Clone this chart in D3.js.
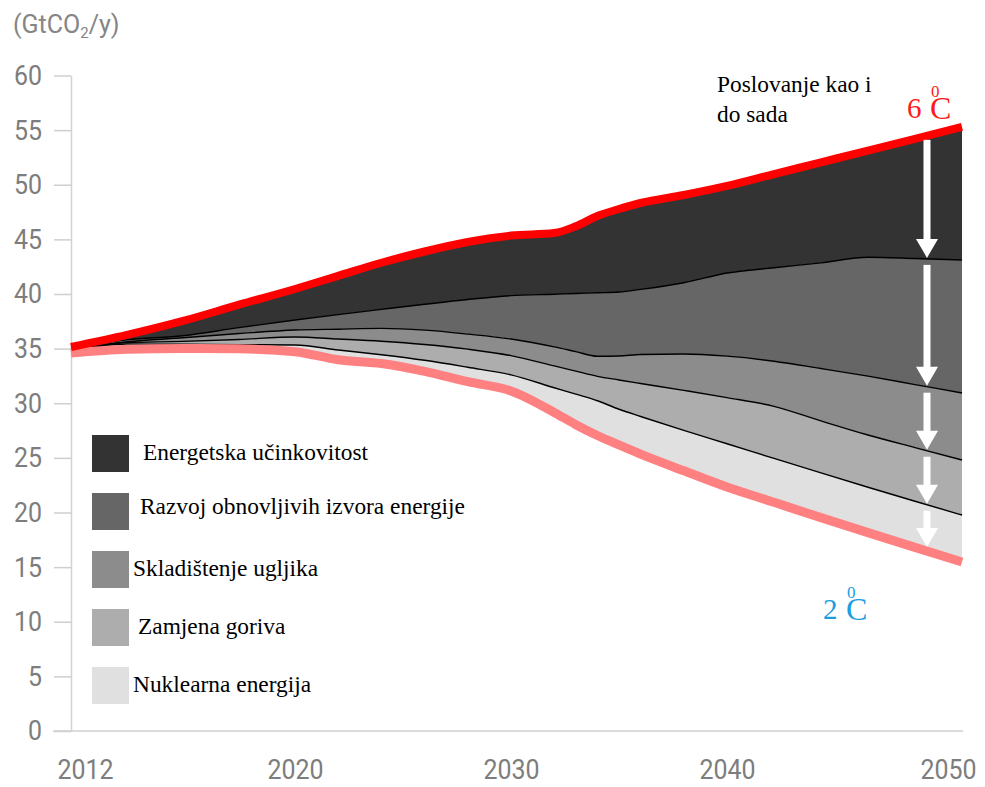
<!DOCTYPE html>
<html>
<head>
<meta charset="utf-8">
<script src="https://cdn.jsdelivr.net/npm/d3@7"></script>
<style>
  body { margin: 0; background: #fff; }
</style>
</head>
<body>
<div id="chart"></div>
<script>
// emissions (GtCO2/y)
const years = [2012, 2014, 2016, 2018, 2020, 2022, 2024, 2026, 2028, 2030, 2032, 2033,
               2034, 2035, 2036, 2038, 2040, 2042, 2044, 2046, 2048, 2050];
// 2DS pathway (bottom line)
const base2DS = [34.6, 34.95, 35.02, 34.98, 34.72, 33.98, 33.64, 32.92, 31.97, 31.12, 29.16, 28.04,
                 27.05, 26.18, 25.34, 23.82, 22.33, 20.93, 19.53, 18.16, 16.81, 15.47];
// reduction wedges, bottom to top
const nuclear    = [0.1, 0.47, 0.38, 0.39, 0.61, 0.9, 0.8, 1.01, 1.32, 1.48, 2.26, 2.79,
                    3.18, 3.27, 3.45, 3.69, 3.96, 4.02, 4.09, 4.15, 4.22, 4.3];
const fuelSwitch = [0.1, 0.14, 0.26, 0.47, 0.73, 1.0, 1.24, 1.45, 1.66, 1.76, 2.0, 2.11,
                    2.23, 2.68, 3.02, 3.67, 4.23, 4.77, 4.76, 4.78, 4.91, 5.04];
const ccs        = [0.1, 0.05, 0.34, 0.54, 0.64, 0.9, 1.17, 1.31, 1.38, 1.52, 1.74, 1.79,
                    1.84, 2.2, 2.65, 3.33, 3.79, 4.13, 4.8, 5.39, 5.77, 6.13];
const renewables = [0.1, 0.19, 0.18, 0.54, 0.92, 1.33, 1.74, 2.37, 3.17, 3.97, 4.82, 5.32,
                    5.81, 5.85, 5.96, 6.52, 7.61, 8.55, 9.67, 10.89, 11.54, 12.17];
const efficiency = [0.15, 0.45, 1.35, 2.1, 2.84, 3.55, 4.27, 4.83, 5.26, 5.5, 5.6, 6.15,
                    7.03, 7.6, 7.91, 8.03, 7.97, 8.57, 9.2, 9.76, 10.95, 12.18];

const legendLabels = ["Energetska učinkovitost", "Razvoj obnovljivih izvora energije",
                      "Skladištenje ugljika", "Zamjena goriva", "Nuklearna energija"];
const yTicks = d3.range(0, 61, 5);
const xTicks = [2012, 2020, 2030, 2040, 2050];

const width = 985, height = 787;
const tickFont = 'Roboto, "Liberation Sans", sans-serif';
const serif = '"Liberation Serif", "Times New Roman", serif';

const svg = d3.select("#chart").append("svg")
  .attr("width", width)
  .attr("height", height);

// x positions of the year labels are not evenly spaced in the original
const x = d3.scaleLinear().domain([2012, 2020, 2030, 2040, 2050]).range([71, 295, 511, 727, 962]);
const y = d3.scaleLinear().domain([0, 60]).range([731, 75.5]);

// stack the wedges on top of the 2DS line
const keys = ["base", "nuc", "fuel", "ccs", "ren", "eff"];
const table = years.map((yr, i) => ({
  year: yr, base: base2DS[i], nuc: nuclear[i], fuel: fuelSwitch[i],
  ccs: ccs[i], ren: renewables[i], eff: efficiency[i]
}));
const series = d3.stack().keys(keys)(table);
const colors = {nuc: "#e0e0e0", fuel: "#adadad", ccs: "#8c8c8c", ren: "#666666", eff: "#333333"};

const area = d3.area()
  .x(d => x(d.data.year))
  .y0(d => y(d[0]))
  .y1(d => y(d[1]))
  .curve(d3.curveMonotoneX);

const topLine = d3.line()
  .x(d => x(d.data.year))
  .y(d => y(d[1]))
  .curve(d3.curveMonotoneX);

// y axis
const yAxis = svg.append("g")
  .attr("transform", "translate(71,0)")
  .call(d3.axisLeft(y).tickValues(yTicks).tickSize(17).tickSizeOuter(0).tickPadding(12));
yAxis.select(".domain").attr("stroke", "#d2d2d2").attr("stroke-width", 1.5);
yAxis.selectAll(".tick line").attr("stroke", "#cfcfcf").attr("stroke-width", 1.5);
yAxis.selectAll(".tick text")
  .attr("fill", "#7d7d7d")
  .style("font-family", tickFont)
  .style("font-size", "28px")
  .attr("textLength", d => String(d).length * 14)
  .attr("lengthAdjust", "spacingAndGlyphs");

// baseline
svg.append("line")
  .attr("x1", 53).attr("x2", x(2050) + 1)
  .attr("y1", y(0)).attr("y2", y(0))
  .attr("stroke", "#cfcfcf").attr("stroke-width", 1.5);

// x axis
const xAxis = svg.append("g")
  .attr("transform", `translate(0,${y(0)})`)
  .call(d3.axisBottom(x).tickValues(xTicks).tickFormat(d3.format("d")).tickSize(0));
xAxis.select(".domain").remove();
xAxis.selectAll(".tick text")
  .attr("y", 48).attr("dy", 0)
  .attr("fill", "#7d7d7d")
  .style("font-family", tickFont)
  .style("font-size", "28px")
  .attr("textLength", 56)
  .attr("lengthAdjust", "spacingAndGlyphs")
  .attr("text-anchor", (d, i) => i === 0 ? "start" : (i === xTicks.length - 1 ? "end" : "middle"))
  .attr("x", (d, i) => i === 0 ? -14 : (i === xTicks.length - 1 ? 14 : 0));

// unit label
const unit = svg.append("text")
  .attr("x", 13).attr("y", 33)
  .attr("fill", "#858585")
  .style("font-family", tickFont)
  .style("font-size", "25px");
unit.append("tspan").text("(GtCO");
unit.append("tspan").text("2").attr("dy", 5).style("font-size", "15px");
unit.append("tspan").text("/y)").attr("dy", -5);

// wedges
const wedges = series.filter(s => s.key !== "base");
svg.append("g").selectAll("path")
  .data(wedges)
  .join("path")
  .attr("d", area)
  .attr("fill", d => colors[d.key]);

// black borders between wedges
svg.append("g").selectAll("path")
  .data(wedges.filter(s => s.key !== "eff"))
  .join("path")
  .attr("d", topLine)
  .attr("fill", "none")
  .attr("stroke", "#000")
  .attr("stroke-width", 1.4);

// 2DS line (pink) and 6DS line (red)
svg.append("path")
  .datum(series[0])
  .attr("d", topLine)
  .attr("fill", "none")
  .attr("stroke", "#ff8080")
  .attr("stroke-width", 9);

svg.append("path")
  .datum(series[series.length - 1])
  .attr("d", topLine)
  .attr("fill", "none")
  .attr("stroke", "#ff0000")
  .attr("stroke-width", 8);

// white arrows near 2050
const arrowX = 927;
const arrowYear = x.invert(arrowX);
const j = d3.bisectLeft(years, arrowYear);
const t = (arrowYear - years[j - 1]) / (years[j] - years[j - 1]);
const edgeAt = s => (1 - t) * s[j - 1][1] + t * s[j][1];
// boundaries from top (6DS) down to 2DS
const edges = [5, 4, 3, 2, 1, 0].map(k => y(edgeAt(series[k])));

const arrows = svg.append("g");
for (let k = 0; k < edges.length - 1; k++) {
  const y0 = edges[k] + (k === 0 ? 4 : 6);
  const y1 = edges[k + 1] - (k === edges.length - 2 ? 4 : 1);
  const head = 19;
  arrows.append("rect")
    .attr("x", arrowX - 3.5).attr("y", y0)
    .attr("width", 7).attr("height", Math.max(0, y1 - head - y0 + 1))
    .attr("fill", "#fff");
  arrows.append("path")
    .attr("d", `M${arrowX - 11},${y1 - head}L${arrowX + 11},${y1 - head}L${arrowX},${y1}Z`)
    .attr("fill", "#fff");
}

// legend
const legendColors = ["eff", "ren", "ccs", "fuel", "nuc"].map(k => colors[k]);
const legendTextX = [143, 140, 133, 138, 133];
const legendTextDy = [25, 21, 25, 25, 25];
const legend = svg.append("g").selectAll("g")
  .data(legendLabels)
  .join("g")
  .attr("transform", (d, i) => `translate(0,${435 + i * 58})`);
legend.append("rect")
  .attr("x", 92).attr("y", 0)
  .attr("width", 37).attr("height", 37)
  .attr("fill", (d, i) => legendColors[i]);
legend.append("text")
  .attr("x", (d, i) => legendTextX[i])
  .attr("y", (d, i) => legendTextDy[i])
  .attr("fill", "#000")
  .style("font-family", serif)
  .style("font-size", "23.4px")
  .text(d => d);

// annotations
svg.append("text").attr("x", 717).attr("y", 92)
  .style("font-family", serif).style("font-size", "23.4px")
  .text("Poslovanje kao i");
svg.append("text").attr("x", 717).attr("y", 122)
  .style("font-family", serif).style("font-size", "23.4px")
  .text("do sada");

// "6 °C" / "2 °C" with the small zero over the C, as one text
function degreeLabel(num, xPos, yPos, color) {
  const txt = svg.append("text")
    .attr("x", xPos).attr("y", yPos)
    .attr("fill", color)
    .style("font-family", serif)
    .style("font-size", "29px");
  txt.append("tspan").text(num);
  txt.append("tspan").attr("x", xPos + 24).attr("dy", -21).style("font-size", "17px").text("0");
  txt.append("tspan").attr("x", xPos + 23).attr("dy", 22).style("font-size", "32px").text("C");
}
degreeLabel("6", 907, 118, "#ff1a1a");
degreeLabel("2", 823, 619, "#1a9de1");
</script>
</body>
</html>
